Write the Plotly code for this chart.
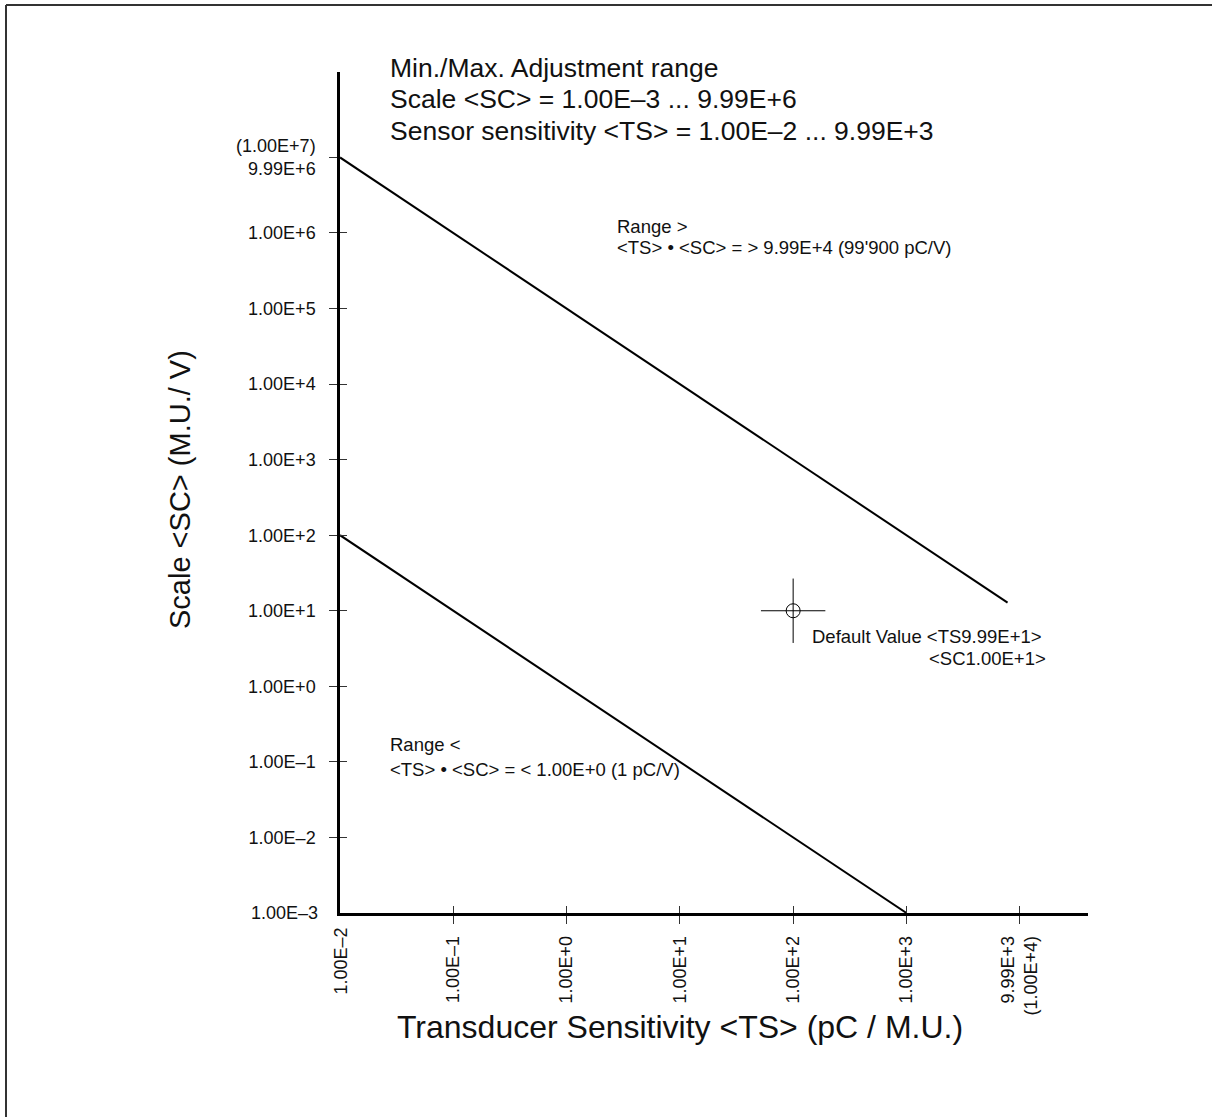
import numpy as np
import plotly.graph_objects as go

# ---- data ----
x_tick_vals = [1e-2, 1e-1, 1e0, 1e1, 1e2, 1e3, 9.99e3]
x_tick_text = ["1.00E–2", "1.00E–1", "1.00E+0", "1.00E+1", "1.00E+2", "1.00E+3",
               "9.99E+3<br>(1.00E+4)"]
y_tick_vals = [1e-3, 1e-2, 1e-1, 1e0, 1e1, 1e2, 1e3, 1e4, 1e5, 1e6, 9.99e6]
y_tick_text = ["1.00E–3", "1.00E–2", "1.00E–1", "1.00E+0", "1.00E+1", "1.00E+2",
               "1.00E+3", "1.00E+4", "1.00E+5", "1.00E+6", "(1.00E+7)<br>9.99E+6"]

upper_ts = [1e-2, 7.8e3]
upper_sc = [9.99e6, 12.8]
lower_ts = [1e-2, 1e3]
lower_sc = [1e2, 1e-3]
default_ts = [99.9]
default_sc = [10.0]

header_lines = ["Min./Max. Adjustment range",
                "Scale &lt;SC&gt; = 1.00E–3 ... 9.99E+6",
                "Sensor sensitivity &lt;TS&gt; = 1.00E–2 ... 9.99E+3"]
range_hi_lines = ["Range &gt;", "&lt;TS&gt; • &lt;SC&gt; = &gt; 9.99E+4 (99'900 pC/V)"]
range_lo_lines = ["Range &lt;", "&lt;TS&gt; • &lt;SC&gt; = &lt; 1.00E+0 (1 pC/V)"]
default_lines = ["Default Value &lt;TS9.99E+1&gt;", "&lt;SC1.00E+1&gt;"]

FONT = "Liberation Sans, Arial, Helvetica, sans-serif"
W, H = 1212, 1117
ML, MR, MT, MB = 340, 124, 72, 204
PW, PH = W - ML - MR, H - MT - MB

def px(xp):
    return (xp - ML) / PW

def py(yp):
    return (H - MB - yp) / PH

fig = go.Figure()
fig.add_trace(go.Scatter(x=upper_ts, y=upper_sc, mode="lines",
                         line=dict(color="black", width=2), hoverinfo="skip"))
fig.add_trace(go.Scatter(x=lower_ts, y=lower_sc, mode="lines",
                         line=dict(color="black", width=2), hoverinfo="skip"))
fig.add_trace(go.Scatter(x=default_ts, y=default_sc, mode="markers",
                         marker=dict(symbol="cross-thin-open", size=46, color="black",
                                     line=dict(color="black", width=1)),
                         hoverinfo="skip"))
fig.add_trace(go.Scatter(x=default_ts, y=default_sc, mode="markers",
                         marker=dict(symbol="circle-open", size=14, color="black",
                                     line=dict(color="black", width=1)),
                         hoverinfo="skip"))
# overlay axes trace (for inner half of crossing ticks)
fig.add_trace(go.Scatter(x=default_ts, y=default_sc, mode="markers",
                         marker=dict(opacity=0), xaxis="x2", yaxis="y2",
                         hoverinfo="skip"))

xr = [-2, -2 + (1088 - 340) / 113.3]
yr = [-3, -3 + (913 - 72) / 75.56]

tickfont = dict(family=FONT, size=18, color="#111")
fig.update_layout(
    width=W, height=H,
    margin=dict(l=ML, r=MR, t=MT, b=MB),
    paper_bgcolor="white", plot_bgcolor="white",
    showlegend=False,
    xaxis=dict(type="log", range=xr, tickvals=x_tick_vals[1:], ticktext=x_tick_text[1:],
               ticks="outside", ticklen=8, tickwidth=1, tickcolor="#333",
               tickangle=-90, tickfont=tickfont, ticklabelstandoff=5,
               showline=True, linecolor="black", linewidth=2.5,
               showgrid=False, zeroline=False),
    yaxis=dict(type="log", range=yr, tickvals=y_tick_vals[1:], ticktext=y_tick_text[1:],
               ticks="outside", ticklen=8, tickwidth=1, tickcolor="#333",
               tickfont=tickfont, ticklabelstandoff=10,
               showline=True, linecolor="black", linewidth=2.5,
               showgrid=False, zeroline=False),
    xaxis2=dict(type="log", range=xr, overlaying="x", side="bottom", anchor="y2",
                tickvals=x_tick_vals[1:], ticks="inside", ticklen=7, tickwidth=1,
                tickcolor="#333", showticklabels=False, showline=False,
                showgrid=False, zeroline=False),
    yaxis2=dict(type="log", range=yr, overlaying="y", side="left", anchor="x2",
                tickvals=y_tick_vals[1:-1], ticks="inside", ticklen=7, tickwidth=1,
                tickcolor="#333", showticklabels=False, showline=False,
                showgrid=False, zeroline=False),
)

# tick labels at axis origin (corner has no tick mark)
fig.add_annotation(xref="paper", yref="y", x=0, y=np.log10(y_tick_vals[0]),
                   text=y_tick_text[0], showarrow=False, xanchor="right",
                   yanchor="middle", xshift=-20, font=tickfont)
fig.add_annotation(xref="x", yref="paper", x=np.log10(x_tick_vals[0]), y=0,
                   text=x_tick_text[0], showarrow=False, textangle=-90,
                   xanchor="center", yanchor="top", yshift=-13, font=tickfont)

def add_lines(lines, ys, x, anchor, size):
    for t, yy in zip(lines, ys):
        fig.add_annotation(xref="paper", yref="paper", x=px(x), y=py(yy),
                           xanchor=anchor, yanchor="middle", showarrow=False,
                           text=t, font=dict(family=FONT, size=size, color="#111"))

add_lines(header_lines, [68, 99, 131], 388, "left", 26.5)
add_lines(range_hi_lines, [226, 247], 615, "left", 18.5)
add_lines(range_lo_lines, [744, 769], 388, "left", 18.5)
add_lines(default_lines[:1], [636], 1044, "right", 18.5)
add_lines(default_lines[1:], [658], 1048, "right", 18.5)

# axis titles
fig.add_annotation(xref="paper", yref="paper", x=px(180), y=py(490),
                   xanchor="center", yanchor="middle",
                   textangle=-90, showarrow=False,
                   text="Scale &lt;SC&gt; (M.U./ V)",
                   font=dict(family=FONT, size=29, color="#111"))
fig.add_annotation(xref="paper", yref="paper", x=px(680), y=py(1027),
                   xanchor="center", yanchor="middle", showarrow=False,
                   text="Transducer Sensitivity &lt;TS&gt; (pC / M.U.)",
                   font=dict(family=FONT, size=32, color="#111"))

# page frame (top and left edges)
fig.add_shape(type="line", xref="paper", yref="paper", x0=px(6), x1=px(1212),
              y0=py(5), y1=py(5), line=dict(color="#333", width=2))
fig.add_shape(type="line", xref="paper", yref="paper", x0=px(6), x1=px(6),
              y0=py(5), y1=py(1117), line=dict(color="#333", width=2))

fig.write_html("out.html", config={"displayModeBar": False},
               post_script="document.body.style.margin='0';")
